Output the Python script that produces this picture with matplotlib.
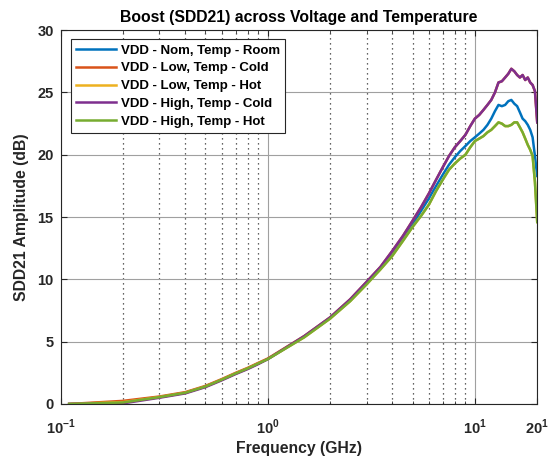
import matplotlib
matplotlib.use("Agg")
import matplotlib.pyplot as plt
from matplotlib.ticker import FixedLocator, NullFormatter

plt.rcParams['font.family'] = ['Liberation Sans', 'DejaVu Sans']
plt.rcParams['font.weight'] = 'bold'
plt.rcParams['mathtext.fontset'] = 'custom'
plt.rcParams['mathtext.rm'] = 'Liberation Sans:bold'
plt.rcParams['mathtext.bf'] = 'Liberation Sans:bold'

freq = [0.11, 0.2, 0.3, 0.4, 0.5, 0.6, 0.7, 0.8, 0.9, 1.0, 1.5, 2.0, 2.5, 3.0, 3.5,
        4.0, 4.5, 5.0, 5.5, 6.0, 6.5, 7.0, 7.5, 8.0, 8.5, 9.0, 9.5, 10.0, 10.5, 11.0,
        11.5, 12.0, 12.5, 13.0, 13.5, 14.0, 14.5, 15.0, 15.5, 16.0, 16.5, 17.0, 17.5,
        18.0, 18.5, 19.0, 19.5, 20.0]

nom_room = [0.0, 0.15, 0.55, 0.9, 1.4, 1.95, 2.45, 2.85, 3.25, 3.6, 5.4, 6.9, 8.3, 9.7, 10.9,
            12.1, 13.3, 14.4, 15.5, 16.5, 17.5, 18.4, 19.2, 19.8, 20.3, 20.7, 21.1, 21.4, 21.7, 22.0,
            22.4, 22.9, 23.5, 24.0, 23.9, 24.0, 24.3, 24.4, 24.1, 23.9, 23.4, 22.9, 22.7,
            22.4, 22.0, 21.4, 19.9, 18.3]
low_cold = [0.0, 0.25, 0.6, 0.95, 1.45, 2.0, 2.5, 2.9, 3.3, 3.65, 5.45, 6.95, 8.4, 9.8, 11.0,
            12.3, 13.5, 14.7, 15.8, 16.9, 18.0, 19.0, 19.9, 20.6, 21.1, 21.6, 22.3, 22.9, 23.2, 23.6,
            24.0, 24.4, 25.0, 25.8, 25.9, 26.2, 26.5, 26.9, 26.7, 26.4, 26.2, 26.4, 26.0,
            26.2, 25.8, 25.6, 25.1, 22.6]
low_hot = [0.0, 0.15, 0.55, 0.9, 1.4, 1.95, 2.45, 2.85, 3.25, 3.6, 5.35, 6.85, 8.25, 9.6, 10.8,
           11.9, 13.1, 14.2, 15.1, 16.0, 17.1, 18.0, 18.8, 19.3, 19.7, 20.0, 20.6, 21.1, 21.3, 21.5,
           21.8, 22.0, 22.3, 22.6, 22.5, 22.3, 22.3, 22.4, 22.6, 22.6, 22.2, 21.8, 21.3,
           20.8, 20.4, 19.9, 17.8, 14.6]
high_cold = [0.0, 0.05, 0.5, 0.85, 1.35, 1.9, 2.4, 2.8, 3.2, 3.6, 5.45, 6.95, 8.4, 9.8, 11.0,
             12.3, 13.5, 14.7, 15.8, 16.9, 18.0, 19.0, 19.9, 20.6, 21.1, 21.6, 22.3, 22.9, 23.2, 23.6,
             24.0, 24.4, 25.0, 25.8, 25.9, 26.2, 26.5, 26.9, 26.7, 26.4, 26.2, 26.4, 26.0,
             26.2, 25.8, 25.6, 25.1, 22.6]
high_hot = [0.0, 0.12, 0.55, 0.9, 1.4, 1.95, 2.45, 2.85, 3.25, 3.6, 5.35, 6.85, 8.25, 9.6, 10.8,
            11.9, 13.1, 14.2, 15.1, 16.0, 17.1, 18.0, 18.8, 19.3, 19.7, 20.0, 20.6, 21.1, 21.3, 21.5,
            21.8, 22.0, 22.3, 22.6, 22.5, 22.3, 22.3, 22.4, 22.6, 22.6, 22.2, 21.8, 21.3,
            20.8, 20.4, 19.9, 17.8, 14.6]

series = [
    ("VDD - Nom, Temp - Room", nom_room, "#0072BD"),
    ("VDD - Low, Temp - Cold", low_cold, "#D95319"),
    ("VDD - Low, Temp - Hot", low_hot, "#EDB120"),
    ("VDD - High, Temp - Cold", high_cold, "#7E2F8E"),
    ("VDD - High, Temp - Hot", high_hot, "#77AC30"),
]

xticks = [0.1, 1, 10, 20]
xticklabels = [r'$10^{-1}$', r'$10^{0}$', r'$10^{1}$', r'$20^{1}$']
yticks = [0, 5, 10, 15, 20, 25, 30]

fig = plt.figure(figsize=(5.51, 4.57), dpi=100)
ax = fig.add_axes([0.110, 0.116, 0.865, 0.818])

for label, vals, color in series:
    ax.plot(freq, vals, color=color, lw=1.8, label=label)

ax.set_xscale('log')
ax.set_xlim(0.1, 20)
ax.set_ylim(0, 30)
ax.xaxis.set_major_locator(FixedLocator(xticks))
ax.set_xticklabels(xticklabels)
minor = [0.2, 0.3, 0.4, 0.5, 0.6, 0.7, 0.8, 0.9, 2, 3, 4, 5, 6, 7, 8, 9]
ax.xaxis.set_minor_locator(FixedLocator(minor))
ax.xaxis.set_minor_formatter(NullFormatter())
ax.set_yticks(yticks)

ax.grid(True, which='major', axis='both', color='#a0a0a0', lw=0.8, ls='-')
ax.grid(True, which='minor', axis='x', color='#303030', lw=0.9, ls=(0, (1, 3)))
ax.set_axisbelow(True)

ax.tick_params(which='both', direction='in', top=True, right=True, colors='#262626',
               labelsize=10.5, pad=5)
ax.tick_params(axis='x', which='major', pad=10)
ax.tick_params(which='major', length=4)
ax.tick_params(which='minor', length=2)
for lab in ax.get_yticklabels() + ax.get_xticklabels():
    lab.set_fontweight('bold')
    lab.set_color('#262626')
for sp in ax.spines.values():
    sp.set_color('#262626')
    sp.set_linewidth(0.8)

ax.set_title('Boost (SDD21) across Voltage and Temperature', fontsize=11.3,
             fontweight='bold', pad=6)
ax.set_xlabel('Frequency (GHz)', fontsize=11.3, fontweight='bold', color='#262626', labelpad=3)
ax.set_ylabel('SDD21 Amplitude (dB)', fontsize=11.3, fontweight='bold', color='#262626', labelpad=6)

leg = ax.legend(loc='upper left', bbox_to_anchor=(0.022, 0.976), fontsize=9.5,
                handlelength=3.0, handletextpad=0.35, labelspacing=0.42,
                borderpad=0.4, borderaxespad=0, frameon=True, fancybox=False, framealpha=1)
leg.get_frame().set_edgecolor('#262626')
leg.get_frame().set_linewidth(0.8)
for t in leg.get_texts():
    t.set_fontweight('bold')

fig.savefig('out.png', dpi=100)
